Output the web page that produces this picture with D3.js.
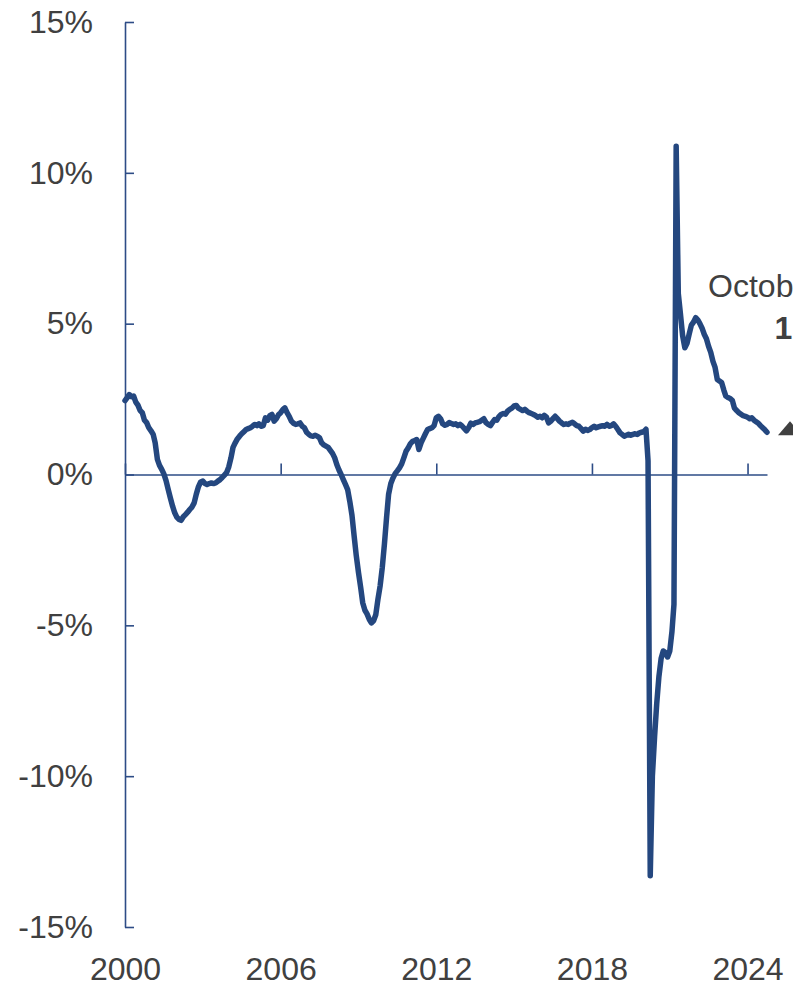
<!DOCTYPE html>
<html>
<head>
<meta charset="utf-8">
<script src="https://cdn.jsdelivr.net/npm/d3@7"></script>
<style>
  html, body { margin: 0; padding: 0; background: #ffffff; }
  svg { display: block; font-family: "Liberation Sans", Arial, sans-serif; }
</style>
</head>
<body>
<svg id="chart" width="793" height="988"></svg>
<script>
// Year-over-year % change, monthly, Jan 2000 – Oct 2024
const startYear = 2000;
const v2000 = [2.45, 2.55, 2.65, 2.58, 2.60, 2.40, 2.30, 2.12, 2.05, 1.80, 1.72, 1.55];
const v2001 = [1.45, 1.33, 1.05, 0.50, 0.30, 0.17, 0.02, -0.20, -0.50, -0.78, -1.05, -1.27];
const v2002 = [-1.42, -1.49, -1.52, -1.40, -1.33, -1.25, -1.16, -1.08, -0.94, -0.65, -0.40, -0.25];
const v2003 = [-0.22, -0.30, -0.33, -0.30, -0.28, -0.30, -0.28, -0.22, -0.17, -0.10, -0.02, 0.06];
const v2004 = [0.25, 0.55, 0.90, 1.05, 1.18, 1.27, 1.35, 1.42, 1.49, 1.52, 1.55, 1.60];
const v2005 = [1.66, 1.62, 1.68, 1.60, 1.62, 1.88, 1.80, 1.95, 1.99, 1.77, 1.85, 1.98];
const v2006 = [2.05, 2.15, 2.21, 2.05, 1.93, 1.77, 1.70, 1.66, 1.68, 1.71, 1.60, 1.55];
const v2007 = [1.40, 1.33, 1.28, 1.27, 1.30, 1.27, 1.22, 1.05, 0.98, 0.94, 0.90, 0.80];
const v2008 = [0.70, 0.55, 0.33, 0.15, 0.00, -0.17, -0.33, -0.50, -0.90, -1.35, -2.05, -2.70];
const v2009 = [-3.25, -3.75, -4.25, -4.50, -4.62, -4.80, -4.92, -4.85, -4.65, -4.15, -3.70, -3.10];
const v2010 = [-2.30, -1.40, -0.65, -0.30, -0.12, 0.03, 0.12, 0.22, 0.35, 0.55, 0.77, 0.88];
const v2011 = [1.02, 1.10, 1.12, 1.16, 0.83, 1.05, 1.20, 1.35, 1.49, 1.52, 1.55, 1.62];
const v2012 = [1.88, 1.93, 1.85, 1.68, 1.63, 1.66, 1.72, 1.69, 1.66, 1.68, 1.62, 1.66];
const v2013 = [1.60, 1.52, 1.45, 1.55, 1.70, 1.66, 1.71, 1.73, 1.75, 1.80, 1.85, 1.72];
const v2014 = [1.66, 1.62, 1.72, 1.82, 1.80, 1.92, 1.99, 2.02, 2.00, 2.10, 2.16, 2.20];
const v2015 = [2.27, 2.29, 2.20, 2.16, 2.12, 2.16, 2.10, 2.05, 2.02, 1.99, 1.95, 1.90];
const v2016 = [1.93, 1.88, 1.96, 1.90, 1.71, 1.77, 1.85, 1.93, 1.85, 1.77, 1.71, 1.66];
const v2017 = [1.68, 1.66, 1.70, 1.73, 1.68, 1.62, 1.60, 1.52, 1.44, 1.50, 1.46, 1.49];
const v2018 = [1.55, 1.60, 1.55, 1.58, 1.60, 1.62, 1.60, 1.66, 1.60, 1.62, 1.68, 1.60];
const v2019 = [1.49, 1.38, 1.33, 1.27, 1.30, 1.33, 1.30, 1.33, 1.35, 1.33, 1.38, 1.40];
const v2020 = [1.42, 1.50, 0.45, -13.30, -10.00, -8.70, -7.60, -6.70, -6.10, -5.85, -5.90, -6.05];
const v2021 = [-5.85, -5.20, -4.30, 10.88, 6.00, 5.30, 4.60, 4.20, 4.35, 4.65, 4.95, 5.05];
const v2022 = [5.20, 5.12, 5.00, 4.85, 4.65, 4.50, 4.25, 4.05, 3.75, 3.55, 3.15, 3.10];
const v2023 = [3.05, 2.80, 2.60, 2.55, 2.52, 2.45, 2.20, 2.12, 2.05, 2.00, 1.95, 1.93];
const v2024 = [1.90, 1.85, 1.88, 1.80, 1.75, 1.70, 1.62, 1.55, 1.48, 1.40];

const yearlyValues = [v2000, v2001, v2002, v2003, v2004, v2005, v2006, v2007, v2008, v2009,
  v2010, v2011, v2012, v2013, v2014, v2015, v2016, v2017, v2018, v2019,
  v2020, v2021, v2022, v2023, v2024];

const xTickYears = [2000, 2006, 2012, 2018, 2024];
const yTicks = [-15, -10, -5, 0, 5, 10, 15];
const latestLabel = "October 2024";

// Build the monthly series
const series = [];
yearlyValues.forEach((vals, yi) => {
  vals.forEach((v, mi) => series.push({ date: new Date(startYear + yi, mi, 1), value: v }));
});
const last = series[series.length - 1];

const svg = d3.select("#chart");
const lineColor = "#24477f";
const axisColor = "#2d4c86";
const textColor = "#404040";

const x = d3.scaleTime()
  .domain([series[0].date, last.date])
  .range([125, 767]);
const y = d3.scaleLinear()
  .domain([-15, 15])
  .range([927, 22]);

// Vertical value axis with inward ticks
const yAxis = svg.append("g")
  .attr("transform", "translate(125,0)")
  .call(d3.axisLeft(y)
    .tickValues(yTicks)
    .tickSizeInner(-9)
    .tickSizeOuter(0)
    .tickPadding(32)
    .tickFormat(d => d + "%"));
yAxis.select(".domain").attr("stroke", axisColor).attr("stroke-width", 1.6);
yAxis.selectAll(".tick line").attr("stroke", axisColor).attr("stroke-width", 1.6);
yAxis.selectAll(".tick text")
  .attr("fill", textColor)
  .attr("font-size", 32)
  .attr("font-family", "Liberation Sans, Arial, sans-serif");

// Zero line with upward year ticks
const zeroAxis = svg.append("g")
  .attr("transform", `translate(0,${y(0)})`)
  .call(d3.axisTop(x)
    .tickValues(xTickYears.map(yr => new Date(yr, 0, 1)))
    .tickSizeInner(11)
    .tickSizeOuter(0)
    .tickFormat(""));
zeroAxis.select(".domain").attr("stroke", axisColor).attr("stroke-width", 1.6);
zeroAxis.selectAll(".tick line").attr("stroke", axisColor).attr("stroke-width", 1.6);

// Year labels along the bottom
const xLabels = svg.append("g")
  .attr("transform", "translate(0,957)")
  .call(d3.axisBottom(x)
    .tickValues(xTickYears.map(yr => new Date(yr, 0, 1)))
    .tickSize(0)
    .tickPadding(0)
    .tickFormat(d3.timeFormat("%Y")));
xLabels.select(".domain").remove();
xLabels.selectAll(".tick text")
  .attr("fill", textColor)
  .attr("font-size", 32)
  .attr("font-family", "Liberation Sans, Arial, sans-serif");

// Series line
const line = d3.line()
  .x(d => x(d.date))
  .y(d => y(d.value));
svg.append("path")
  .datum(series)
  .attr("fill", "none")
  .attr("stroke", lineColor)
  .attr("stroke-width", 5.5)
  .attr("stroke-linejoin", "round")
  .attr("stroke-linecap", "round")
  .attr("d", line);

// Latest-value callout
const lx = x(last.date), ly = y(last.value);
svg.append("path")
  .attr("d", `M${lx + 11},${ly + 3} L${lx + 23},${ly - 11} L${lx + 35},${ly + 3} Z`)
  .attr("fill", "#404040");

const callout = svg.append("g")
  .attr("font-family", "Liberation Sans, Arial, sans-serif")
  .attr("font-size", 32)
  .attr("fill", textColor)
  .attr("text-anchor", "middle");
callout.append("text")
  .attr("x", 805).attr("y", 297)
  .text(latestLabel);
callout.append("text")
  .attr("x", 811).attr("y", 339)
  .attr("font-weight", "bold")
  .text(d3.format(".1f")(last.value) + "%");
</script>
</body>
</html>
